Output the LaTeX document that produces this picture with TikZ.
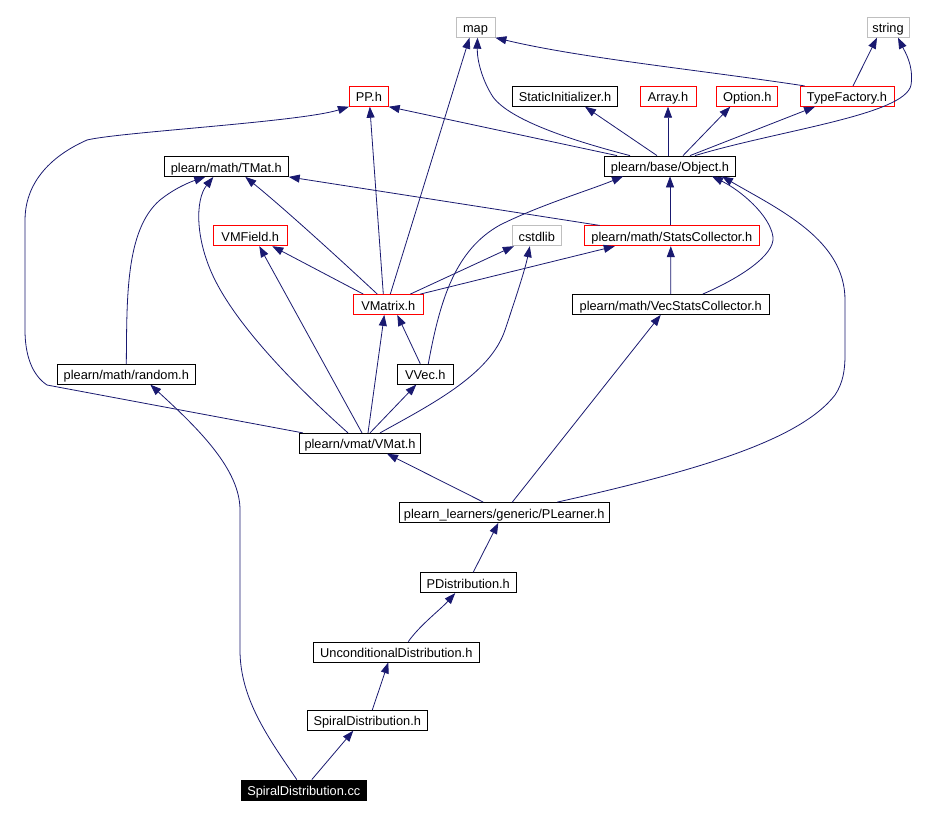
\documentclass[tikz,border=0pt]{standalone}
\usepackage{fontspec}
\setmainfont{Liberation Sans}
\usetikzlibrary{arrows.meta}
\definecolor{edgeblue}{HTML}{191970}
\definecolor{boxred}{HTML}{FF0000}
\definecolor{boxgray}{HTML}{BFBFBF}
\begin{document}
\begin{tikzpicture}[x={(1pt,0pt)},y={(0pt,-1pt)},
  box/.style={draw=black, line width=0.8pt, minimum height=20pt, inner sep=0pt,
    font=\fontsize{12.8}{14}\selectfont, text height=11pt, text depth=0pt},
  redbox/.style={box, draw=boxred},
  graybox/.style={box, draw=boxgray},
  edge/.style={draw=edgeblue, line width=0.8pt, -{Triangle[length=11pt,width=8pt]}}]
\useasboundingbox[fill=white] (0,0) rectangle (949,817);
% nodes
\node[graybox, minimum width=39pt] (map) at (475.5,27.3) {map};
\node[graybox, minimum width=42pt] (str) at (888,27.3) {string};
\node[redbox, minimum width=39pt] (pp) at (368.8,96.3) {PP.h};
\node[box, minimum width=104.7pt] (si) at (565,96.3) {StaticInitializer.h};
\node[redbox, minimum width=56pt] (arr) at (668,96.3) {Array.h};
\node[redbox, minimum width=61pt] (opt) at (747.3,96.3) {Option.h};
\node[redbox, minimum width=94pt] (tf) at (847,96.3) {TypeFactory.h};
\node[box, minimum width=124pt] (tmat) at (226.3,166.5) {plearn/math/TMat.h};
\node[box, minimum width=131.7pt] (obj) at (670,166) {plearn/base/Object.h};
\node[redbox, minimum width=74pt] (vmf) at (250.3,235.8) {VMField.h};
\node[graybox, minimum width=49.7pt] (cs) at (536.8,235.8) {cstdlib};
\node[redbox, minimum width=175.7pt] (sc) at (671.8,235.8) {plearn/math/StatsCollector.h};
\node[redbox, minimum width=70pt] (vmx) at (388.3,304.5) {VMatrix.h};
\node[box, minimum width=197.3pt] (vsc) at (670.7,304.5) {plearn/math/VecStatsCollector.h};
\node[box, minimum width=138pt] (rnd) at (126.3,374.2) {plearn/math/random.h};
\node[box, minimum width=56pt] (vv) at (425.3,374.2) {VVec.h};
\node[box, minimum width=121.3pt] (vmat) at (360,443.3) {plearn/vmat/VMat.h};
\node[box, minimum width=210pt] (pl) at (504.3,512.5) {plearn\_learners/generic/PLearner.h};
\node[box, minimum width=95.7pt] (pd) at (468.2,582.7) {PDistribution.h};
\node[box, minimum width=166pt] (unc) at (396.3,652) {UnconditionalDistribution.h};
\node[box, minimum width=120pt] (sph) at (367.3,720.3) {SpiralDistribution.h};
\node[box, fill=black, text=white, minimum width=125.7pt] (scc) at (303.8,790) {SpiralDistribution.cc};
% edges: TypeFactory
\draw[edge] ([xshift=5pt]tf.north west) .. controls (700,70) and (580,58) .. (map.south east);
\draw[edge] ([xshift=6pt]tf.north) -- ([xshift=-11pt]str.south);
% Object
\draw[edge] ([xshift=25pt]obj.north) .. controls (780,130) and (905,115) .. (911,85) .. controls (914,65) and (904,50) .. ([xshift=10pt]str.south);
\draw[edge] ([xshift=-40pt]obj.north) .. controls (570,140) and (510,120) .. (493,97) .. controls (482,80) and (477,60) .. ([xshift=2pt]map.south);
\draw[edge] ([xshift=-13pt]obj.north) -- ([xshift=20pt]si.south);
\draw[edge] ([xshift=-2pt]obj.north) -- (arr.south);
\draw[edge] ([xshift=13pt]obj.north) -- ([xshift=-17pt]opt.south);
\draw[edge] ([xshift=20pt]obj.north) -- ([xshift=-32pt]tf.south);
\draw[edge] ([xshift=-53pt]obj.north) -- (pp.south east);
% VMatrix
\draw[edge] ([xshift=2pt]vmx.north) -- ([xshift=-6pt]map.south);
\draw[edge] ([xshift=-5pt]vmx.north) -- ([xshift=1pt]pp.south);
\draw[edge] ([xshift=-11pt]vmx.north) .. controls (330,250) and (280,205) .. ([xshift=19pt]tmat.south);
\draw[edge] ([xshift=-25pt]vmx.north) -- ([xshift=22pt]vmf.south);
\draw[edge] ([xshift=22pt]vmx.north) -- ([xshift=-23pt]cs.south);
\draw[edge] ([xshift=32pt]vmx.north) -- ([xshift=-57pt]sc.south);
% StatsCollector
\draw[edge] ([xshift=16pt]sc.north west) -- (tmat.south east);
\draw[edge] ([xshift=-1.8pt]sc.north) -- (obj.south);
% VecStatsCollector
\draw[edge] (vsc.north) -- ([xshift=-1pt]sc.south);
\draw[edge] ([xshift=32pt]vsc.north) .. controls (740,278) and (775,255) .. (773,237) .. controls (770,215) and (740,190) .. ([xshift=42pt]obj.south);
% PLearner
\draw[edge] ([xshift=53pt]pl.north) .. controls (700,470) and (800,440) .. (835,395) .. controls (843,383) and (845,370) .. (845,355) -- (845,300) .. controls (845,240) and (780,210) .. ([xshift=52pt]obj.south);
\draw[edge] ([xshift=-21pt]pl.north) -- ([xshift=27pt]vmat.south);
\draw[edge] ([xshift=8pt]pl.north) -- ([xshift=-10pt]vsc.south);
% VVec
\draw[edge] ([xshift=-5pt]vv.north) -- ([xshift=9pt]vmx.south);
\draw[edge] ([xshift=3pt]vv.north) .. controls (440,300) and (455,250) .. (500,225) .. controls (540,205) and (590,190) .. ([xshift=-47pt]obj.south);
% random
\draw[edge] (rnd.north) .. controls (127,300) and (125,230) .. (160,200) .. controls (175,188) and (190,182) .. ([xshift=-21pt]tmat.south);
% VMat
\draw[edge] ([xshift=-12pt]vmat.north) .. controls (300,390) and (240,330) .. (215,280) .. controls (195,240) and (195,200) .. ([xshift=-13pt]tmat.south);
\draw[edge] ([xshift=2pt]vmat.north) -- ([xshift=9pt]vmf.south);
\draw[edge] ([xshift=8pt]vmat.north) -- ([xshift=-4pt]vmx.south);
\draw[edge] ([xshift=10pt]vmat.north) -- ([xshift=-9pt]vv.south);
\draw[edge] ([xshift=20pt]vmat.north) .. controls (430,405) and (490,375) .. (505,330) .. controls (515,300) and (525,270) .. ([xshift=-7pt]cs.south);
\draw[edge] ([xshift=4pt]vmat.north west) -- (47,385) .. controls (32,375) and (25,355) .. (25,330) -- (25,220) .. controls (25,190) and (42,160) .. (87,140) .. controls (120,132) and (300,122) .. (pp.south west);
% chain
\draw[edge] ([xshift=5pt]pd.north) -- ([xshift=-6pt]pl.south);
\draw[edge] ([xshift=12pt]unc.north) .. controls (420,625) and (440,610) .. ([xshift=-13pt]pd.south);
\draw[edge] ([xshift=5pt]sph.north) -- ([xshift=-8pt]unc.south);
\draw[edge] ([xshift=8pt]scc.north) -- ([xshift=-14pt]sph.south);
\draw[edge] ([xshift=-7pt]scc.north) .. controls (270,740) and (240,700) .. (240,650) -- (240,510) .. controls (240,470) and (200,430) .. ([xshift=24pt]rnd.south);
\end{tikzpicture}
\end{document}
